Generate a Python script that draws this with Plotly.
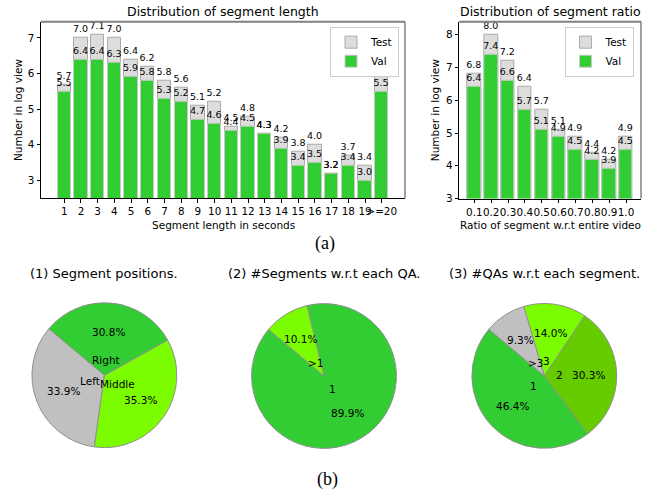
import math
import plotly.graph_objects as go

W, H = 655, 496

# ---------------- data ----------------
len_labels = [str(i) for i in range(1, 20)] + [">=20"]
len_test = [5.7, 7.0, 7.1, 7.0, 6.4, 6.2, 5.8, 5.6, 5.1, 5.2,
            4.5, 4.8, 4.3, 4.2, 3.8, 4.0, 3.2, 3.7, 3.4, 5.9]
len_val = [5.5, 6.4, 6.4, 6.3, 5.9, 5.8, 5.3, 5.2, 4.7, 4.6,
           4.4, 4.5, 4.3, 3.9, 3.4, 3.5, 3.2, 3.4, 3.0, 5.5]

ratio_labels = ["0.1", "0.2", "0.3", "0.4", "0.5", "0.6", "0.7", "0.8", "0.9", "1.0"]
ratio_test = [6.8, 8.0, 7.2, 6.4, 5.7, 5.1, 4.9, 4.4, 4.2, 4.9]
ratio_val = [6.4, 7.4, 6.6, 5.7, 5.1, 4.9, 4.5, 4.2, 3.9, 4.5]

pos_labels = ["Left", "Middle", "Right"]
pos_values = [33.9, 35.3, 30.8]
pos_colors = ["#C0C0C0", "#7CFC00", "#32CD32"]

segqa_labels = ["1", ">1"]
segqa_values = [89.9, 10.1]
segqa_colors = ["#32CD32", "#7CFC00"]

qaseg_labels = ["1", "2", "3", ">3"]
qaseg_values = [46.4, 30.3, 14.0, 9.3]
qaseg_colors = ["#32CD32", "#66CC00", "#7CFC00", "#C0C0C0"]

pie_titles = ["(1) Segment positions.", "(2) #Segments w.r.t each QA.",
              "(3) #QAs w.r.t each segment."]

FONT = "DejaVu Sans"
TEST_COLOR = "#DDDDDD"
VAL_COLOR = "#32CD32"

# ---------------- layout geometry (pixels) ----------------
ax1 = dict(l=41, r=405, t=22, b=200.7)
ax2 = dict(l=459.3, r=641, t=22, b=201)
pies = [dict(cx=104.4, cy=379.8, r=73.3),
        dict(cx=324.0, cy=380.6, r=73.3),
        dict(cx=544.3, cy=380.5, r=73.3)]
START_ANGLE = 140
PCT_DIST = 0.6
LABEL_DIST = 0.21


def px(x):
    return x / W


def py(y):
    return (H - y) / H


fig = go.Figure()


def add_bars(xs, test, val, xaxis, yaxis, legend):
    common = dict(width=0.8, texttemplate="%{y:.1f}", textposition="outside",
                  constraintext="none", cliponaxis=False,
                  textfont=dict(family=FONT, size=9.5, color="black"),
                  xaxis=xaxis, yaxis=yaxis, legend=legend)
    fig.add_trace(go.Bar(x=xs, y=test, name="Test",
                         marker=dict(color=TEST_COLOR, line=dict(color="#AAAAAA", width=1)),
                         **common))
    fig.add_trace(go.Bar(x=xs, y=val, name="Val",
                         marker=dict(color=VAL_COLOR, line=dict(color="#C8C8C8", width=1)),
                         **common))


xs1 = list(range(len(len_labels)))
xs2 = list(range(len(ratio_labels)))
add_bars(xs1, len_test, len_val, "x", "y", "legend")
add_bars(xs2, ratio_test, ratio_val, "x2", "y2", "legend2")

# ---------------- pies ----------------
pie_data = [(pos_labels, pos_values, pos_colors),
            (segqa_labels, segqa_values, segqa_colors),
            (qaseg_labels, qaseg_values, qaseg_colors)]

annotations = []
for (labels, values, colors), g, title in zip(pie_data, pies, pie_titles):
    total = sum(values)
    # plotly (counterclockwise) anchors the END of the first slice at `rotation`
    first_end = START_ANGLE + 360.0 * values[0] / total
    rot = ((90.0 - first_end) + 180.0) % 360.0 - 180.0
    fig.add_trace(go.Pie(
        labels=labels, values=values, sort=False, direction="counterclockwise",
        rotation=rot, textinfo="none", showlegend=False,
        marker=dict(colors=colors, line=dict(color="#909090", width=1)),
        domain=dict(x=[px(g["cx"] - g["r"]), px(g["cx"] + g["r"])],
                    y=[py(g["cy"] + g["r"]), py(g["cy"] - g["r"])]),
    ))
    cum = 0.0
    for lab, v in zip(labels, values):
        mid = math.radians(START_ANGLE + 360.0 * (cum + v / 2.0) / total)
        cum += v
        c, s = math.cos(mid), math.sin(mid)
        # percentage text
        annotations.append(dict(
            x=px(g["cx"] + PCT_DIST * g["r"] * c), y=py(g["cy"] - PCT_DIST * g["r"] * s),
            xref="paper", yref="paper", text=f"{100.0 * v / total:.1f}%",
            showarrow=False, xanchor="center", yanchor="middle",
            font=dict(family=FONT, size=10.5, color="black")))
        # slice label near the centre
        annotations.append(dict(
            x=px(g["cx"] + LABEL_DIST * g["r"] * c), y=py(g["cy"] - LABEL_DIST * g["r"] * s),
            xref="paper", yref="paper", text=lab, showarrow=False,
            xanchor="center", yanchor="middle",
            font=dict(family=FONT, size=10.5, color="black")))
    annotations.append(dict(
        x=px(g["cx"]), y=py(276.7), xref="paper", yref="paper", text=title,
        showarrow=False, xanchor="center", yanchor="middle",
        font=dict(family=FONT, size=13, color="black")))

# ---------------- titles / axis labels ----------------
def txt(x, y, text, size, family=FONT, angle=0):
    annotations.append(dict(x=px(x), y=py(y), xref="paper", yref="paper", text=text,
                            showarrow=False, xanchor="center", yanchor="middle",
                            textangle=angle,
                            font=dict(family=family, size=size, color="black")))


txt((ax1["l"] + ax1["r"]) / 2, 11.7, "Distribution of segment length", 12.5)
txt((ax2["l"] + ax2["r"]) / 2, 11.7, "Distribution of segment ratio", 12.5)
txt((ax1["l"] + ax1["r"]) / 2, 227.5, "Segment length in seconds", 10.5)
txt((ax2["l"] + ax2["r"]) / 2, 227.5, "Ratio of segment w.r.t entire video", 10.5)
txt(18, (ax1["t"] + ax1["b"]) / 2, "Number in log view", 10.5, angle=-90)
txt(435, (ax2["t"] + ax2["b"]) / 2, "Number in log view", 10.5, angle=-90)
txt(325, 246.5, "(a)", 18, family="Liberation Serif")
txt(327, 485, "(b)", 18, family="Liberation Serif")

# ---------------- axes ----------------
def xaxis_cfg(a, n, labels):
    span = (n - 1) + 0.8
    m = 0.05 * span
    return dict(domain=[px(a["l"]), px(a["r"])], range=[-0.4 - m, n - 1 + 0.4 + m],
                tickvals=list(range(n)), ticktext=labels, tickangle=0,
                showline=True, linecolor="black", linewidth=1, ticks="outside",
                ticklen=3.5, tickcolor="black", showgrid=False, zeroline=False,
                tickfont=dict(family=FONT, size=10.4, color="black"))


def yaxis_cfg(a, rng, tv):
    return dict(domain=[py(a["b"]), py(a["t"])], range=rng, tickvals=tv,
                showline=True, linecolor="black", linewidth=1, ticks="outside",
                ticklen=3.5, tickcolor="black", showgrid=False, zeroline=False,
                tickfont=dict(family=FONT, size=10.4, color="black"))


shapes = []
for xr, yr in (("x domain", "y domain"), ("x2 domain", "y2 domain")):
    shapes.append(dict(type="line", xref=xr, yref=yr, x0=0, x1=1, y0=1, y1=1,
                       line=dict(color="#808080", width=2)))
    shapes.append(dict(type="line", xref=xr, yref=yr, x0=1, x1=1, y0=0, y1=1,
                       line=dict(color="#808080", width=1.5)))

legend_common = dict(xanchor="right", yanchor="top", bgcolor="white",
                     bordercolor="#CCCCCC", borderwidth=1,
                     font=dict(family=FONT, size=10.5, color="black"),
                     tracegroupgap=0, itemwidth=30)

fig.update_layout(
    width=W, height=H, margin=dict(l=0, r=0, t=0, b=0),
    paper_bgcolor="white", plot_bgcolor="white",
    barmode="overlay", bargap=0,
    font=dict(family=FONT, color="black"),
    xaxis=xaxis_cfg(ax1, len(len_labels), len_labels),
    yaxis=yaxis_cfg(ax1, [2.5, 7.455], [3, 4, 5, 6, 7]),
    xaxis2=dict(xaxis_cfg(ax2, len(ratio_labels), ratio_labels), anchor="y2"),
    yaxis2=dict(yaxis_cfg(ax2, [3, 8.4], [3, 4, 5, 6, 7, 8]), anchor="x2"),
    legend=dict(x=px(399), y=py(27), **legend_common),
    legend2=dict(x=px(633.5), y=py(27), **legend_common),
    annotations=annotations,
    shapes=shapes,
)

fig.write_html("out.html", config={"displayModeBar": False},
               post_script="document.body.style.margin='0px';")
